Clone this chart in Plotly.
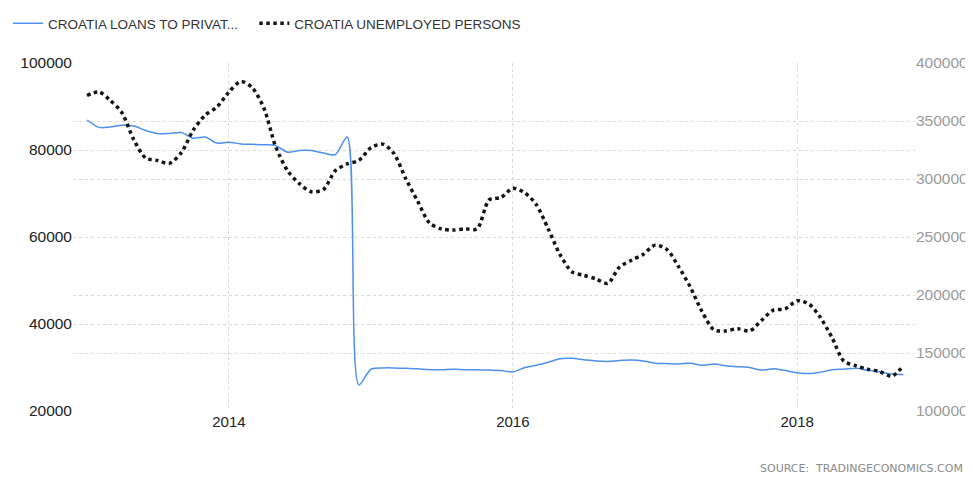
import pandas as pd
import plotly.graph_objects as go

# monthly observations, Jan 2013 - Oct 2018
dates = pd.date_range("2013-01-01", periods=70, freq="MS")

loans_private = [
    86900, 85200, 85300, 85700, 85500, 84500, 83800, 83800, 84000, 82700, 83000, 81600,
    81800, 81400, 81300, 81200, 81000, 79500, 79900, 79900, 79300, 78900, 83000, 26000,
    29600, 29900, 29900, 29800, 29700, 29500, 29500, 29600, 29500, 29500, 29400, 29300,
    29000, 30000, 30500, 31200, 32000, 32100, 31800, 31500, 31400, 31600, 31700, 31500,
    31000, 30900, 30800, 31000, 30500, 30800, 30400, 30200, 30000, 29400, 29700, 29300,
    28800, 28600, 28900, 29500, 29600, 29800, 29400, 29000, 28500, 28400,
]

unemployed = [
    372000, 375000, 368000, 357000, 334000, 318000, 316000, 313500, 323000, 342000, 355000, 362000,
    375000, 384000, 379000, 361000, 328000, 307000, 296000, 289000, 291000, 307000, 313000, 316000,
    327000, 330000, 322000, 300000, 281000, 262000, 257000, 256000, 257000, 257000, 282000, 284000,
    292000, 288000, 278000, 257000, 235000, 220000, 217000, 214000, 210000, 224000, 230000, 235000,
    243000, 239000, 225000, 207000, 186000, 170000, 169000, 171000, 169000, 178000, 187000, 188000,
    195000, 192000, 181000, 163000, 143000, 139000, 136000, 134000, 130000, 139000,
]

left_ticks = [20000, 40000, 60000, 80000, 100000]
right_ticks = [100000, 150000, 200000, 250000, 300000, 350000, 400000]
year_ticks = ["2014-01-01", "2016-01-01", "2018-01-01"]

FONT = "Liberation Sans, Arial, sans-serif"
GRID = "#d9d9d9"

fig = go.Figure()
fig.add_trace(go.Scatter(
    x=dates, y=loans_private, name="CROATIA LOANS TO PRIVAT...\u00a0\u00a0\u00a0",
    mode="lines", line=dict(color="#4d90f0", width=1.5, shape="spline", smoothing=0.8),
    yaxis="y",
))
fig.add_trace(go.Scatter(
    x=dates, y=unemployed, name="CROATIA UNEMPLOYED PERSONS",
    mode="lines", line=dict(color="#151515", width=3.5, dash="dot", shape="spline", smoothing=0.8),
    yaxis="y2",
))

# page body has an 8px margin, so the figure is 8px smaller than the window
fig.update_layout(
    width=965, height=471,
    margin=dict(l=65, r=58, t=55, b=68, autoexpand=False),
    plot_bgcolor="#fff", paper_bgcolor="#fff",
    font=dict(family=FONT, size=15, color="#222"),
    showlegend=True,
    legend=dict(
        orientation="h", xref="container", x=0, y=1.0, yref="container", yanchor="top",
        xanchor="left", font=dict(size=13.5, color="#333"), itemwidth=30,
        bgcolor="rgba(0,0,0,0)",
    ),
    xaxis=dict(
        type="date", range=["2012-11-26", "2018-10-31"],
        tickvals=year_ticks, tickformat="%Y",
        showgrid=True, gridcolor=GRID, griddash="dot", gridwidth=1,
        zeroline=False, showline=False, ticks="",
        tickfont=dict(size=15, color="#222"),
    ),
    yaxis=dict(
        range=[20000, 100000], tickvals=left_ticks, tickformat="d",
        showgrid=True, gridcolor=GRID, griddash="dot", gridwidth=1,
        zeroline=False, showline=False, ticks="",
        tickfont=dict(size=15.5, color="#222"),
    ),
    yaxis2=dict(
        overlaying="y", side="right", range=[100000, 400000], tickvals=right_ticks,
        tickformat="d",
        showgrid=True, gridcolor=GRID, griddash="dot", gridwidth=1,
        zeroline=False, showline=False, ticks="",
        tickfont=dict(size=15.5, color="#9a9a9a"),
    ),
    annotations=[dict(
        text="SOURCE:  TRADINGECONOMICS.COM", xref="paper", yref="paper",
        x=1.0594, y=-0.164, xanchor="right", yanchor="middle", showarrow=False,
        font=dict(size=11, color="#8a8a8a", family="DejaVu Sans, sans-serif"),
    )],
)

fig.write_html("out.html")
